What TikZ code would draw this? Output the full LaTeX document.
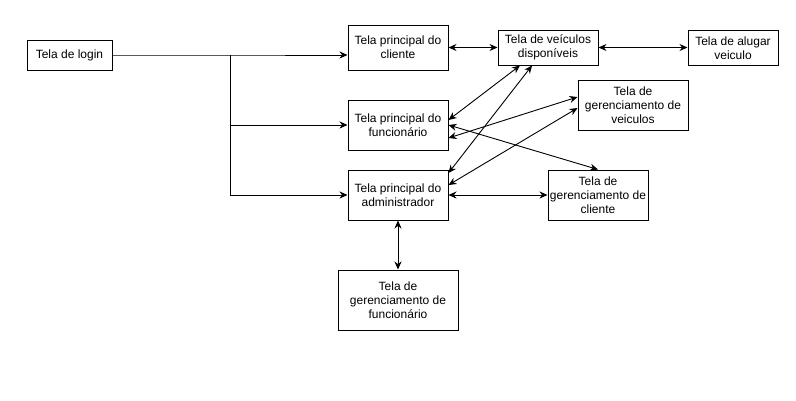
\documentclass[tikz,border=0pt]{standalone}
\usepackage{fontspec}
\setmainfont{Liberation Sans}
\usetikzlibrary{arrows.meta}
\tikzset{
  box/.style={draw=black, line width=1pt, fill=white, align=center, inner sep=0pt,
    font=\fontsize{12}{14}\selectfont},
  conn/.style={line width=0.9pt, -{Stealth[length=8pt,width=7pt]}},
  biconn/.style={line width=0.9pt, {Stealth[length=8pt,width=7pt]}-{Stealth[length=8pt,width=7pt]}}
}
\begin{document}
\begin{tikzpicture}[x=1pt,y=-1pt]
\useasboundingbox (0,0) rectangle (796,400);
\fill[white] (0,0) rectangle (796,400);
\node[box, minimum width=85pt, minimum height=30pt] (login) at (69.5,55) {Tela de login};
\node[box, minimum width=100pt, minimum height=45pt] (cli) at (398,47.5) {Tela principal do\\cliente};
\node[box, minimum width=100pt, minimum height=50pt] (func) at (398,125) {Tela principal do\\funcionário};
\node[box, minimum width=100pt, minimum height=50pt] (adm) at (398,195) {Tela principal do\\administrador};
\node[box, minimum width=100pt, minimum height=35pt] (veic) at (548,47.5) {Tela de veículos\\disponíveis};
\node[box, minimum width=90pt, minimum height=35pt] (alug) at (733,48) {Tela de alugar\\veiculo};
\node[box, minimum width=110pt, minimum height=50pt] (gveic) at (633,105) {Tela de\\gerenciamento de\\veiculos};
\node[box, minimum width=100pt, minimum height=50pt] (gcli) at (598,195) {Tela de\\gerenciamento de\\cliente};
\node[box, minimum width=120pt, minimum height=60pt] (gfunc) at (398,300) {Tela de\\gerenciamento de\\funcionário};
\coordinate (j1) at (230,55);
\coordinate (j2) at (230,125);
\coordinate (j3) at (230,195);
% login connectors
\draw[conn] (login.east) -- (j1) -- (cli.west |- j1);
\draw[conn] (j1) -- (j3) -- (adm.west);
\draw[conn] (j2) -- (func.west);
% horizontal links
\draw[biconn] (cli.east) -- (veic.west);
\draw[biconn] (veic.east) -- (alug.west |- veic.east);
\draw[biconn] (adm.east) -- (gcli.west);
\draw[biconn] (adm.south) -- (gfunc.north);
% diagonals
\draw[biconn] ([xshift=-28pt]veic.south) -- ([yshift=5pt]func.east);
\draw[biconn] ([xshift=-16pt]veic.south) -- ([yshift=22pt]adm.east);
\draw[biconn] ([yshift=8pt]gveic.west) -- ([yshift=-13pt]func.east);
\draw[biconn] ([yshift=-3pt]gveic.west) -- ([yshift=10pt]adm.east);
\draw[biconn] (func.east) -- (gcli.north);
\end{tikzpicture}
\end{document}
